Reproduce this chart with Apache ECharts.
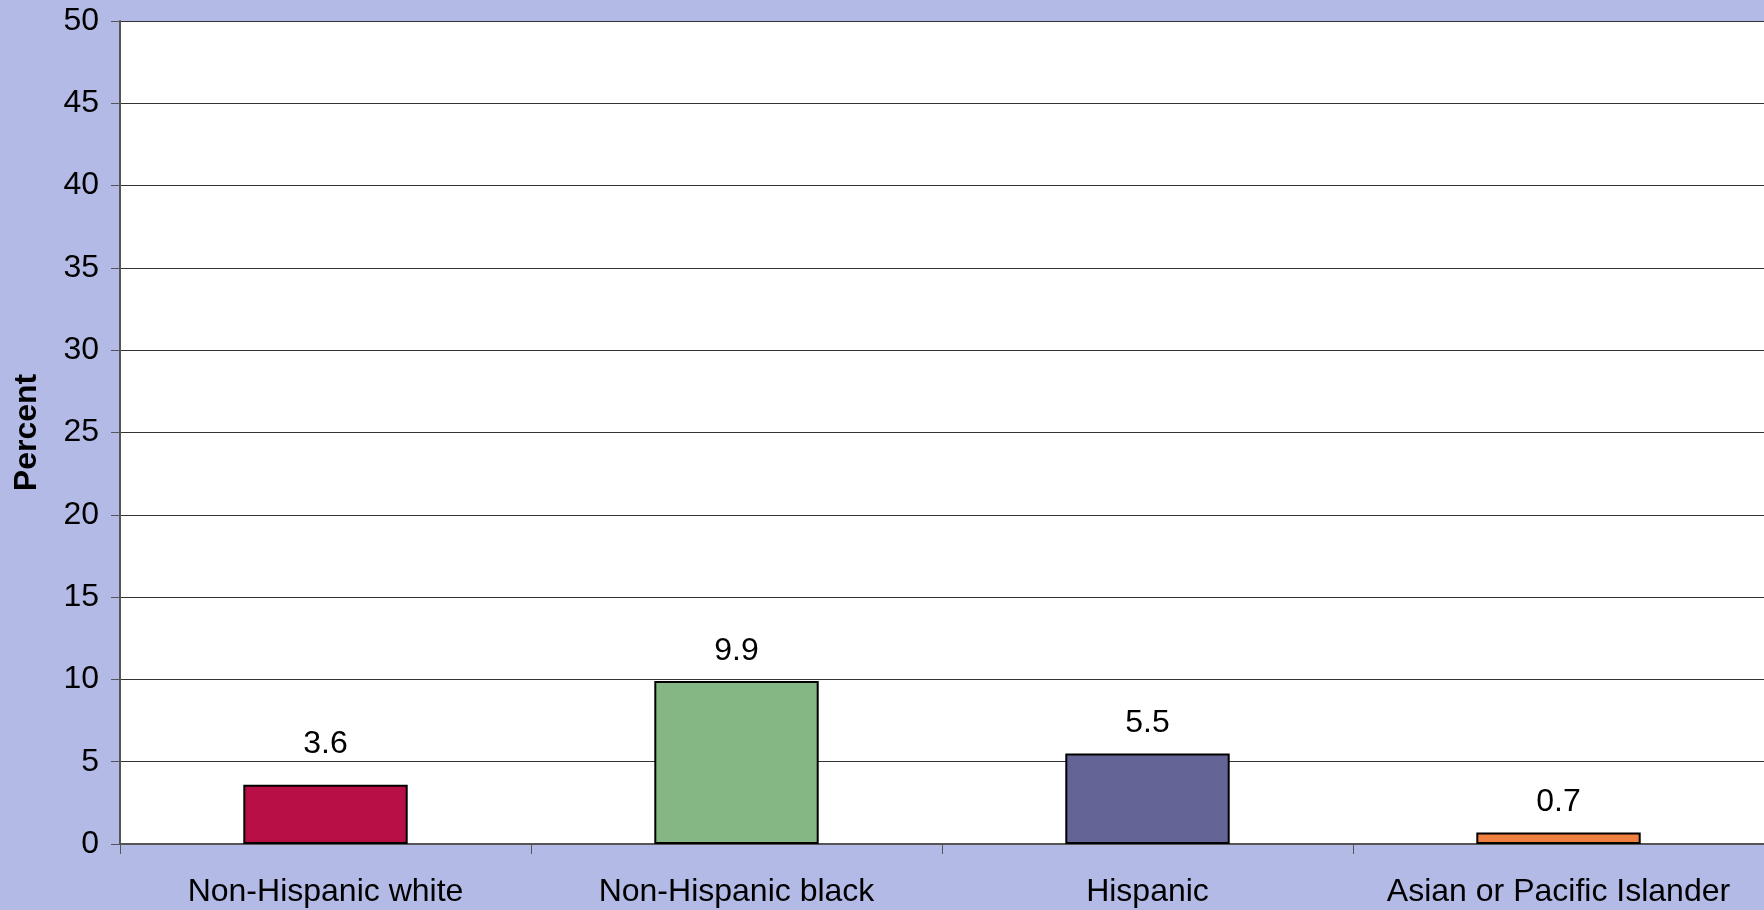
<!DOCTYPE html>
<html>
<head>
<meta charset="utf-8">
<title>Percent by race and Hispanic origin</title>
<script src="https://cdn.jsdelivr.net/npm/echarts@6/dist/echarts.min.js"></script>
<style>
  html, body { margin: 0; padding: 0; background: #B3BAE6; }
  #chart { width: 1764px; height: 910px; }
</style>
</head>
<body>
<div id="chart"></div>
<script>
// Groups along the horizontal axis
const categories = ['Non-Hispanic white', 'Non-Hispanic black', 'Hispanic', 'Asian or Pacific Islander'];
// Percent for each group
const percentValues = [3.6, 9.9, 5.5, 0.7];
// Fill colour of each bar
const barColors = ['#B90F47', '#85B785', '#646496', '#F08040'];
// Gap between each bar top and its value label
const labelGaps = [25, 14, 14, 14];
// Value axis range and step
const yMin = 0, yMax = 50, yStep = 5;

const FONT = 'Liberation Sans, Arial, sans-serif';

const chart = echarts.init(document.getElementById('chart'), null, { renderer: 'canvas' });

chart.setOption({
  backgroundColor: '#B3BAE6',
  animation: false,
  grid: { left: 120, top: 21, right: 0, bottom: 66, containLabel: false,
          show: true, backgroundColor: '#FFFFFF', borderWidth: 0 },
  xAxis: {
    type: 'category',
    data: categories,
    boundaryGap: true,
    axisLine: { show: true, lineStyle: { color: '#555555', width: 2 } },
    axisTick: { show: true, interval: 0, inside: false, length: 10, lineStyle: { color: '#555555', width: 1 } },
    axisLabel: { interval: 0, color: '#000000', fontFamily: FONT, fontSize: 32, margin: 32 },
    splitLine: { show: false }
  },
  yAxis: {
    type: 'value',
    min: yMin, max: yMax, interval: yStep,
    name: 'Percent',
    nameLocation: 'middle',
    nameRotate: 90,
    nameGap: 77,
    nameTextStyle: { color: '#000000', fontFamily: FONT, fontSize: 32, fontWeight: 'bold' },
    axisLine: { show: true, lineStyle: { color: '#555555', width: 2 } },
    axisTick: { show: true, inside: false, length: 9, lineStyle: { color: '#555555', width: 1 } },
    axisLabel: { color: '#000000', fontFamily: FONT, fontSize: 32, margin: 21 },
    splitLine: { show: true, lineStyle: { color: '#333333', width: 1 } }
  },
  series: [{
    type: 'bar',
    data: percentValues.map((v, i) => ({
      value: v,
      itemStyle: { color: barColors[i], borderColor: '#000000', borderWidth: 2 },
      label: { distance: labelGaps[i] }
    })),
    barWidth: '40%',
    label: {
      show: true,
      position: 'top',
      color: '#000000',
      fontFamily: FONT,
      fontSize: 32,
      formatter: p => p.value.toFixed(1)
    }
  }]
});
</script>
</body>
</html>
